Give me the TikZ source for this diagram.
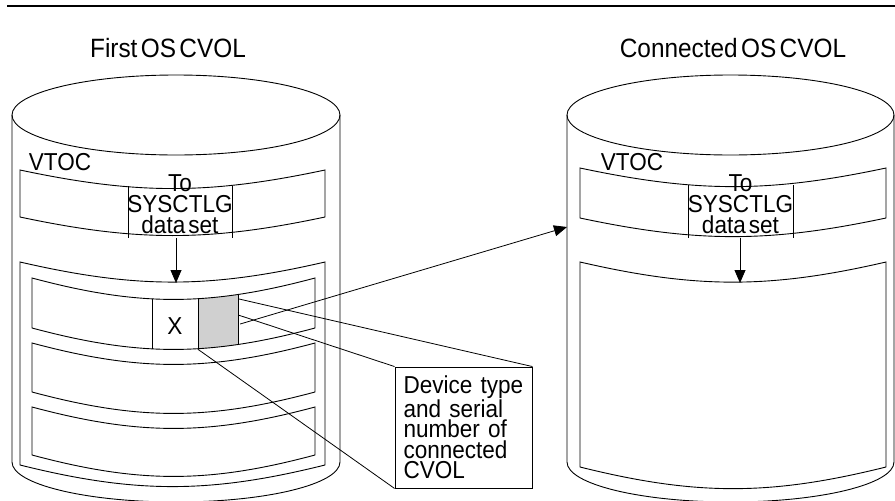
\documentclass[tikz,border=0pt]{standalone}
\usepackage{fontspec}
\setmainfont{Liberation Sans}[FakeStretch=0.92, WordSpace=0.5]
\usetikzlibrary{arrows.meta}
\definecolor{cellgrey}{RGB}{208,208,208}

\begin{document}
\begin{tikzpicture}[
  x=1pt, y=-1pt,
  font=\fontsize{24.5}{21}\selectfont,
  outline/.style={line width=0.9pt},
  lead/.style={line width=0.8pt},
  arrow/.style={-{Triangle[length=13pt,width=11pt]}, line width=0.8pt},
  lbl/.style={inner sep=0pt, align=center},
  title/.style={inner sep=0pt, font=\fontsize{26.5}{26}\selectfont}
]
\useasboundingbox (0,0) rectangle (895,501);
\draw[line width=1.6pt] (7,6) -- (895,6);

% first OS CVOL
\node[title] (firsttitle) at (168,48) {First OS CVOL};
\draw[outline] (176,115) ellipse [x radius=164, y radius=40];
\draw[outline] (12,115) -- (12,462)
  arc[start angle=180, end angle=0, x radius=164, y radius=40] -- (340,115);
\draw[outline] (20,170) to[bend right=12] (325,170) -- (325,217)
  to[bend left=12] (20,217) -- cycle;
\node[lbl] (vtocl) at (60,162) {VTOC};
\node[lbl] (sysl) at (180,204) {To\\SYSCTLG\\data set};
\draw[outline] (128,186) -- (128,238) (232,186) -- (232,238);
\draw[outline] (20,262) to[bend right=13] (325,262) -- (325,465)
  to[bend left=14] (20,465) -- cycle;
\coordinate (vbotl) at (176,238);
\coordinate (dtopl) at (176,283);
\draw[arrow] (vbotl) -- (dtopl);

\begin{scope}
  \clip (32,278) to[bend right=15] (315,278) -- (315,328)
    to[bend left=15] (32,328) -- cycle;
  \fill[cellgrey] (198,270) rectangle (238,360);
  \draw[outline] (152,270) -- (152,360) (198,270) -- (198,360)
    (238,270) -- (238,360);
\end{scope}
\foreach \t/\b in {278/328, 343/392, 407/455}
  \draw[outline] (32,\t) to[bend right=15] (315,\t) -- (315,\b)
    to[bend left=15] (32,\b) -- cycle;
\node[lbl] (xcell) at (175,326) {X};
\node[inner sep=0pt, minimum width=40pt, minimum height=50pt] (ptr) at (218,324) {};

% callout
\node[draw, outline, inner sep=0pt, minimum width=137pt, minimum height=121pt,
  text width=120pt, align=left, font=\fontsize{24.5}{20.5}\selectfont]
  (devinfo) at (463.5,427.5)
  {Device type\\and serial\\number of\\connected\\CVOL};
\draw[lead] (ptr.north east) -- (devinfo.north east);
\draw[lead] ([yshift=9pt]ptr.east) -- (devinfo.north west);
\draw[lead] (ptr.south west) -- (devinfo.south west);

% connected OS CVOL
\node[title] (conntitle) at (733,48) {Connected OS CVOL};
\draw[outline] (730.5,115) ellipse [x radius=163.5, y radius=40];
\draw[outline] (567,115) -- (567,462)
  arc[start angle=180, end angle=0, x radius=163.5, y radius=40] -- (894,115);
\draw[outline] (580,168) to[bend right=12] (886,168) -- (886,218)
  to[bend left=12] (580,218) -- cycle;
\node[lbl] (vtocr) at (632,162) {VTOC};
\node[lbl] (sysr) at (740.5,204) {To\\SYSCTLG\\data set};
\draw[outline] (688,185) -- (688,238) (793,185) -- (793,238);
\draw[outline] (580,262) to[bend right=13] (886,262) -- (886,467)
  to[bend left=14] (580,467) -- cycle;
\coordinate (vbotr) at (740,238);
\coordinate (dtopr) at (740,283);
\draw[arrow] (vbotr) -- (dtopr);

\coordinate (cvolin) at (567,227);
\draw[arrow] ([xshift=2pt]ptr.east) -- (cvolin);
\end{tikzpicture}
\end{document}
